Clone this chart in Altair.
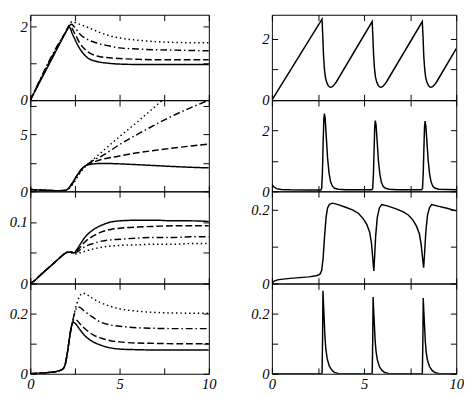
import altair as alt
import pandas as pd

FONT = "Liberation Serif"
SERIES = ["solid", "dashed", "dashdot", "dotted"]
DASHES = [[1, 0], [7, 3], [7, 3, 1.5, 3], [1.5, 3]]

x_ticks = [0, 2.5, 5, 7.5, 10]
x_show = [0, 5, 10]

# ---------------- left column ----------------
l1_solid_x = [0, 2.0, 2.15, 2.4, 2.77, 3.21, 3.74, 4.44, 5, 6, 7, 8, 9, 10]
l1_solid_y = [0, 1.86, 2.0, 1.75, 1.40, 1.15, 1.05, 1.00, 0.98, 0.97, 0.97, 0.97, 0.97, 0.97]
l1_dashed_x = [0, 2.0, 2.2, 2.5, 2.77, 3.21, 3.74, 4.44, 5, 6, 7, 8, 9, 10]
l1_dashed_y = [0, 1.86, 2.02, 1.8, 1.55, 1.32, 1.2, 1.15, 1.13, 1.11, 1.10, 1.10, 1.10, 1.10]
l1_dashdot_x = [0, 2.0, 2.3, 2.5, 2.77, 3.21, 3.74, 4.44, 5, 6, 7, 8, 9, 10]
l1_dashdot_y = [0, 1.86, 2.06, 1.97, 1.80, 1.65, 1.55, 1.47, 1.42, 1.39, 1.37, 1.36, 1.35, 1.34]
l1_dotted_x = [0, 2.0, 2.33, 2.77, 3.21, 3.74, 4.44, 5, 6, 7, 8, 9, 10]
l1_dotted_y = [0, 1.86, 2.13, 2.06, 1.98, 1.87, 1.75, 1.69, 1.63, 1.59, 1.57, 1.56, 1.56]

l2_solid_x = [0, 0.5, 1.0, 1.5, 1.9, 2.1, 2.3, 2.5, 2.7, 2.9, 3.1, 3.3, 3.6, 4.0, 4.5, 5, 6, 7, 8, 9, 10]
l2_solid_y = [0.17, 0.12, 0.08, 0.06, 0.07, 0.2, 0.6, 1.1, 1.6, 2.0, 2.25, 2.35, 2.42, 2.45, 2.44, 2.41, 2.34, 2.26, 2.18, 2.11, 2.06]
l2_dashed_x = [0, 0.5, 1.0, 1.5, 1.9, 2.1, 2.3, 2.5, 2.7, 2.9, 3.1, 3.3, 3.6, 4.0, 5, 6, 7, 8, 9, 10]
l2_dashed_y = [0.17, 0.12, 0.08, 0.06, 0.07, 0.2, 0.6, 1.1, 1.6, 2.0, 2.25, 2.42, 2.6, 2.8, 3.1, 3.38, 3.6, 3.8, 3.98, 4.15]
l2_dashdot_x = [0, 0.5, 1.0, 1.5, 1.9, 2.1, 2.3, 2.5, 2.7, 2.9, 3.1, 3.3, 3.6, 4.0, 5, 6, 7, 8, 9, 10]
l2_dashdot_y = [0.17, 0.12, 0.08, 0.06, 0.07, 0.18, 0.55, 1.0, 1.5, 1.95, 2.25, 2.48, 2.78, 3.1, 4.1, 5.0, 5.85, 6.65, 7.35, 8.0]
l2_dotted_x = [0, 0.5, 1.0, 1.5, 1.9, 2.1, 2.3, 2.5, 2.7, 2.9, 3.1, 3.3, 3.6, 4.0, 5, 6, 7, 7.4]
l2_dotted_y = [0.17, 0.12, 0.08, 0.06, 0.06, 0.15, 0.45, 0.9, 1.4, 1.85, 2.2, 2.5, 2.9, 3.45, 4.8, 6.1, 7.45, 8.0]

l3_solid_x = [0, 0.25, 0.5, 1.0, 1.5, 1.9, 2.1, 2.3, 2.45, 2.6, 2.8, 3.0, 3.5, 4.0, 4.5, 5, 6, 7, 8, 9, 10]
l3_solid_y = [0, 0.005, 0.012, 0.025, 0.038, 0.048, 0.051, 0.051, 0.05, 0.055, 0.064, 0.073, 0.087, 0.095, 0.1, 0.102, 0.103, 0.103, 0.102, 0.102, 0.101]
l3_dashed_x = [0, 0.25, 0.5, 1.0, 1.5, 1.9, 2.1, 2.3, 2.45, 2.6, 2.8, 3.0, 3.5, 4.0, 4.5, 5, 6, 7, 8, 9, 10]
l3_dashed_y = [0, 0.005, 0.012, 0.025, 0.038, 0.048, 0.051, 0.051, 0.05, 0.053, 0.059, 0.066, 0.077, 0.084, 0.088, 0.09, 0.092, 0.093, 0.094, 0.094, 0.094]
l3_dashdot_x = [0, 0.25, 0.5, 1.0, 1.5, 1.9, 2.1, 2.3, 2.45, 2.6, 2.8, 3.0, 3.5, 4.0, 4.5, 5, 6, 7, 8, 9, 10]
l3_dashdot_y = [0, 0.005, 0.012, 0.025, 0.038, 0.048, 0.051, 0.051, 0.05, 0.051, 0.055, 0.059, 0.065, 0.069, 0.071, 0.072, 0.074, 0.075, 0.075, 0.076, 0.076]
l3_dotted_x = [0, 0.25, 0.5, 1.0, 1.5, 1.9, 2.1, 2.3, 2.45, 2.6, 2.8, 3.0, 3.5, 4.0, 4.5, 5, 6, 7, 8, 9, 10]
l3_dotted_y = [0, 0.005, 0.012, 0.025, 0.038, 0.048, 0.051, 0.05, 0.048, 0.048, 0.05, 0.052, 0.056, 0.059, 0.061, 0.062, 0.063, 0.064, 0.064, 0.065, 0.065]

l4_solid_x = [0, 0.5, 1.0, 1.5, 1.8, 1.95, 2.05, 2.15, 2.25, 2.4, 2.55, 2.8, 3.0, 3.5, 4.0, 4.5, 5, 6, 7, 8, 10]
l4_solid_y = [0, 0.002, 0.004, 0.008, 0.015, 0.03, 0.06, 0.1, 0.14, 0.171, 0.165, 0.145, 0.13, 0.107, 0.094, 0.086, 0.082, 0.08, 0.079, 0.079, 0.079]
l4_dashed_x = [0, 0.5, 1.0, 1.5, 1.8, 1.95, 2.05, 2.15, 2.25, 2.35, 2.45, 2.6, 2.8, 3.0, 3.5, 4.0, 4.5, 5, 6, 7, 8, 10]
l4_dashed_y = [0, 0.002, 0.004, 0.008, 0.015, 0.03, 0.06, 0.1, 0.14, 0.165, 0.182, 0.178, 0.165, 0.153, 0.13, 0.118, 0.11, 0.106, 0.102, 0.101, 0.1, 0.1]
l4_dashdot_x = [0, 0.5, 1.0, 1.5, 1.8, 1.95, 2.05, 2.15, 2.25, 2.35, 2.5, 2.65, 2.8, 3.0, 3.5, 4.0, 4.5, 5, 6, 7, 8, 10]
l4_dashdot_y = [0, 0.002, 0.004, 0.008, 0.015, 0.03, 0.06, 0.1, 0.14, 0.17, 0.205, 0.222, 0.22, 0.21, 0.188, 0.17, 0.162, 0.158, 0.153, 0.151, 0.15, 0.15]
l4_dotted_x = [0, 0.5, 1.0, 1.5, 1.8, 1.95, 2.05, 2.15, 2.25, 2.35, 2.5, 2.7, 2.95, 3.2, 3.5, 4.0, 4.5, 5, 6, 7, 8, 10]
l4_dotted_y = [0, 0.002, 0.004, 0.008, 0.015, 0.03, 0.06, 0.1, 0.14, 0.17, 0.21, 0.25, 0.268, 0.262, 0.25, 0.235, 0.224, 0.216, 0.208, 0.204, 0.202, 0.201]

# ---------------- right column ----------------
r1_x = [0, 2.72, 2.76, 2.8, 2.85, 2.9, 2.97, 3.05, 3.12, 3.19, 3.28, 3.38, 3.5,
        5.44, 5.48, 5.52, 5.57, 5.62, 5.69, 5.77, 5.84, 5.91, 6.0, 6.1, 6.22,
        8.16, 8.2, 8.24, 8.29, 8.34, 8.41, 8.49, 8.56, 8.63, 8.72, 8.82, 8.94, 10]
r1_y = [0, 2.64, 2.1, 1.45, 1.0, 0.75, 0.58, 0.48, 0.43, 0.42, 0.44, 0.5, 0.6,
        2.56, 2.05, 1.42, 1.0, 0.75, 0.58, 0.48, 0.43, 0.42, 0.44, 0.5, 0.6,
        2.56, 2.05, 1.42, 1.0, 0.75, 0.58, 0.48, 0.43, 0.42, 0.44, 0.5, 0.6, 1.68]

r2_x = [0, 0.1, 0.25, 0.5, 1.0, 2.0,
        2.66, 2.7, 2.74, 2.78, 2.82, 2.85, 2.89, 2.95, 3.02, 3.1, 3.18, 3.28, 3.4, 3.6, 4.0, 5.0,
        5.42, 5.47, 5.51, 5.55, 5.58, 5.61, 5.65, 5.71, 5.78, 5.86, 5.94, 6.04, 6.16, 6.36, 6.8, 8.0,
        8.12, 8.17, 8.21, 8.25, 8.28, 8.31, 8.35, 8.41, 8.48, 8.56, 8.64, 8.74, 8.86, 9.06, 10]
r2_y = [0.24, 0.15, 0.09, 0.06, 0.05, 0.045,
        0.045, 0.1, 0.6, 1.6, 2.4, 2.56, 2.4, 1.8, 1.1, 0.6, 0.32, 0.17, 0.1, 0.07, 0.055, 0.05,
        0.05, 0.1, 0.6, 1.5, 2.15, 2.33, 2.18, 1.65, 1.0, 0.55, 0.3, 0.16, 0.1, 0.07, 0.055, 0.05,
        0.05, 0.1, 0.6, 1.5, 2.13, 2.31, 2.16, 1.63, 1.0, 0.55, 0.3, 0.16, 0.1, 0.07, 0.05]

r3_x = [0, 0.1, 0.3, 0.6, 1.0, 1.5, 2.0, 2.4, 2.6, 2.7, 2.78, 2.86, 2.94, 3.02, 3.12, 3.28,
        3.6, 4.0, 4.4, 4.7, 4.95, 5.15, 5.3, 5.4, 5.47, 5.53,
        5.57, 5.63, 5.72, 5.83, 5.96,
        6.3, 6.7, 7.1, 7.4, 7.65, 7.85, 8.0, 8.1, 8.17, 8.23,
        8.28, 8.35, 8.44, 8.55, 8.67,
        9.0, 9.5, 10]
r3_y = [0, 0.006, 0.01, 0.012, 0.014, 0.016, 0.018, 0.021, 0.025, 0.035, 0.07, 0.13, 0.18, 0.205, 0.215, 0.218,
        0.214, 0.207, 0.199, 0.19, 0.176, 0.16, 0.14, 0.11, 0.07, 0.034,
        0.07, 0.13, 0.18, 0.205, 0.214,
        0.21, 0.203, 0.195, 0.186, 0.172, 0.155, 0.135, 0.105, 0.07, 0.043,
        0.08, 0.14, 0.185, 0.206, 0.214,
        0.21, 0.204, 0.197]

r4_x = [0, 1.0, 2.0, 2.72, 2.75, 2.77, 2.8, 2.84, 2.88, 2.93, 3.0, 3.11, 3.25, 3.4, 3.6, 4.5,
        5.44, 5.47, 5.49, 5.52, 5.56, 5.6, 5.65, 5.72, 5.83, 5.97, 6.12, 6.32, 7.2,
        8.16, 8.19, 8.21, 8.24, 8.28, 8.32, 8.37, 8.44, 8.55, 8.69, 8.84, 9.04, 10]
r4_y = [0, 0, 0, 0, 0.12, 0.276, 0.23, 0.176, 0.12, 0.08, 0.05, 0.026, 0.012, 0.004, 0.001, 0,
        0, 0.11, 0.255, 0.21, 0.162, 0.11, 0.074, 0.046, 0.024, 0.011, 0.004, 0.001, 0,
        0, 0.11, 0.252, 0.208, 0.16, 0.109, 0.073, 0.045, 0.024, 0.011, 0.004, 0.001, 0]


def frame(pairs):
    parts = [pd.DataFrame({"x": xs, "y": ys, "s": name}) for name, xs, ys in pairs]
    return pd.concat(parts, ignore_index=True)


def axis(orient, values, shown, labels=True):
    kw = dict(orient=orient, values=values, offset=-6, tickSize=6, tickColor="black",
              tickWidth=1, domain=False, grid=False, title=None, labelOverlap=False,
              labelFlush=False, labelFont=FONT, labelFontStyle="italic", labelFontSize=15,
              labelColor="black", labelPadding=3)
    if labels:
        kw["labelExpr"] = "indexof([%s], datum.value) >= 0 ? '' + datum.value : ''" % ",".join(
            str(v) for v in shown)
    else:
        kw["labels"] = False
    return alt.Axis(**kw)


def panel(df, ydom, yvals, yshow, w, h, bottom, dashed, interp):
    xs = alt.Scale(domain=[0, 10], nice=False, zero=False)
    ys = alt.Scale(domain=ydom, nice=False, zero=False)
    extra = {}
    if dashed:
        extra["strokeDash"] = alt.StrokeDash("s:N", scale=alt.Scale(domain=SERIES, range=DASHES),
                                             legend=None)
    main = alt.Chart(df).mark_line(color="black", strokeWidth=1.5, clip=True,
                                   interpolate=interp).encode(
        x=alt.X("x:Q", scale=xs, axis=axis("bottom", x_ticks, x_show, labels=bottom)),
        y=alt.Y("y:Q", scale=ys, axis=axis("left", yvals, yshow)),
        detail="s:N", **extra)
    ghost = alt.Chart(df).mark_point(opacity=0).encode(
        x=alt.X("x:Q", scale=xs, axis=axis("top", x_ticks, [], labels=False)),
        y=alt.Y("y:Q", scale=ys, axis=axis("right", yvals, [], labels=False)))
    return alt.layer(main, ghost).resolve_axis(x="independent", y="independent").properties(
        width=w, height=h)


LW, RW = 184, 190
H = [88, 94, 95, 93]

L1 = frame([("solid", l1_solid_x, l1_solid_y), ("dashed", l1_dashed_x, l1_dashed_y),
            ("dashdot", l1_dashdot_x, l1_dashdot_y), ("dotted", l1_dotted_x, l1_dotted_y)])
L2 = frame([("solid", l2_solid_x, l2_solid_y), ("dashed", l2_dashed_x, l2_dashed_y),
            ("dashdot", l2_dashdot_x, l2_dashdot_y), ("dotted", l2_dotted_x, l2_dotted_y)])
L3 = frame([("solid", l3_solid_x, l3_solid_y), ("dashed", l3_dashed_x, l3_dashed_y),
            ("dashdot", l3_dashdot_x, l3_dashdot_y), ("dotted", l3_dotted_x, l3_dotted_y)])
L4 = frame([("solid", l4_solid_x, l4_solid_y), ("dashed", l4_dashed_x, l4_dashed_y),
            ("dashdot", l4_dashdot_x, l4_dashdot_y), ("dotted", l4_dotted_x, l4_dotted_y)])
R1 = frame([("solid", r1_x, r1_y)])
R2 = frame([("solid", r2_x, r2_y)])
R3 = frame([("solid", r3_x, r3_y)])
R4 = frame([("solid", r4_x, r4_y)])

left = alt.vconcat(
    panel(L1, [0, 2.32], [0, 1, 2], [0, 2], LW, H[0], False, True, "monotone"),
    panel(L2, [0, 8], [0, 2.5, 5, 7.5], [0, 5], LW, H[1], False, True, "monotone"),
    panel(L3, [0, 0.15], [0, 0.05, 0.1], [0, 0.1], LW, H[2], False, True, "monotone"),
    panel(L4, [0, 0.3], [0, 0.1, 0.2], [0, 0.2], LW, H[3], True, True, "monotone"),
    spacing=0, bounds="flush")
right = alt.vconcat(
    panel(R1, [0, 2.78], [0, 1, 2], [0, 2], RW, H[0], False, False, "linear"),
    panel(R2, [0, 3], [0, 1, 2], [0, 2], RW, H[1], False, False, "linear"),
    panel(R3, [0, 0.25], [0, 0.1, 0.2], [0, 0.2], RW, H[2], False, False, "linear"),
    panel(R4, [0, 0.3], [0, 0.1, 0.2], [0, 0.2], RW, H[3], True, False, "linear"),
    spacing=0, bounds="flush")

chart = alt.hconcat(left, right, spacing=34).properties(
    padding=0, background="white").configure_view(stroke="black", strokeWidth=1)

chart.save("out.html", embed_options={"renderer": "svg", "actions": False})
